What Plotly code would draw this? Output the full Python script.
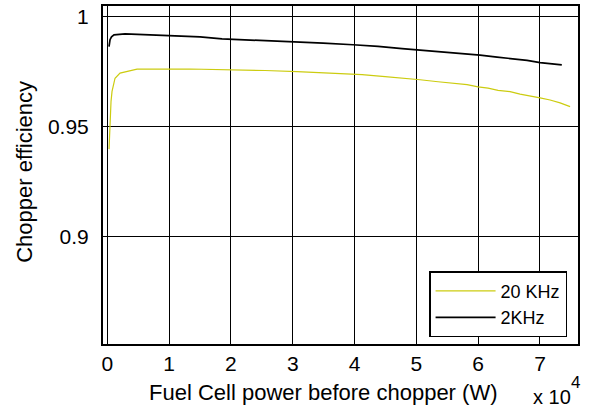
import plotly.graph_objects as go

# 2 kHz chopper efficiency (W, efficiency)
p_2k = [275, 437, 680, 1084, 2864, 4806, 8204, 11764, 15000, 18560, 21472, 24385,
        29887, 34903, 39757, 43803, 47686, 51084, 54644, 57880, 60307, 63058,
        65647, 67913, 70016, 71634, 73528]
eff_2k = [0.9862, 0.9894, 0.9907, 0.9916, 0.9920, 0.9918, 0.9913, 0.9910, 0.9907,
          0.9898, 0.9895, 0.9891, 0.9884, 0.9878, 0.9871, 0.9864, 0.9853, 0.9846,
          0.9838, 0.9830, 0.9824, 0.9815, 0.9808, 0.9800, 0.9790, 0.9785, 0.9780]

# 20 kHz chopper efficiency
p_20k = [275, 437, 599, 761, 1246, 2055, 3188, 4806, 13382, 22605, 25518, 30696,
         36359, 41214, 44935, 48172, 50599, 53511, 55939, 58204, 59984, 61602,
         63220, 65162, 66780, 68074, 70016, 71634, 73252, 74871]
eff_20k = [0.9397, 0.9540, 0.9614, 0.9659, 0.9719, 0.9742, 0.9750, 0.9760, 0.9761,
           0.9758, 0.9754, 0.9749, 0.9742, 0.9735, 0.9726, 0.9719, 0.9712, 0.9703,
           0.9697, 0.9690, 0.9680, 0.9674, 0.9664, 0.9658, 0.9647, 0.9641, 0.9630,
           0.9620, 0.9607, 0.9590]

x_tickvals = [0, 10000, 20000, 30000, 40000, 50000, 60000, 70000]
x_ticktext = ["0", "1", "2", "3", "4", "5", "6", "7"]
y_tickvals = [0.9, 0.95, 1.0]
y_ticktext = ["0.9", "0.95", "1"]

FONT = "Liberation Sans, Arial, sans-serif"

fig = go.Figure()
fig.add_trace(go.Scatter(x=p_20k, y=eff_20k, mode="lines", name="20 KHz",
                         line=dict(color="#cccc10", width=1.2)))
fig.add_trace(go.Scatter(x=p_2k, y=eff_2k, mode="lines", name="2KHz",
                         line=dict(color="black", width=1.7)))

axis_common = dict(showline=True, mirror="ticks", linecolor="black", linewidth=2,
                   showgrid=True, gridcolor="black", gridwidth=1, zeroline=False,
                   ticks="inside", ticklen=5, tickcolor="black", tickwidth=1,
                   tickfont=dict(family=FONT, size=21, color="black"))

fig.update_xaxes(range=[-700, 76150], tickvals=x_tickvals, ticktext=x_ticktext,
                 ticklabelstandoff=0, **axis_common)
fig.update_yaxes(range=[0.8512, 1.0047], tickvals=y_tickvals, ticktext=y_ticktext,
                 ticklabelstandoff=8, **axis_common)

fig.update_layout(
    width=591, height=415,
    margin=dict(l=103, r=13, t=4, b=71),
    paper_bgcolor="white", plot_bgcolor="white",
    font=dict(family=FONT, color="black"),
    legend=dict(x=0.977, y=0.02, xanchor="right", yanchor="bottom",
                bgcolor="white", bordercolor="black", borderwidth=1.5,
                font=dict(family=FONT, size=18, color="black"),
                itemwidth=60, tracegroupgap=0),
    annotations=[
        dict(text="Fuel Cell power before chopper (W)", xref="paper", yref="paper",
             x=0.463, y=-0.1, xanchor="center", yanchor="top", showarrow=False,
             font=dict(family=FONT, size=22, color="black")),
        dict(text="Chopper efficiency", xref="paper", yref="paper",
             x=-0.166, y=0.51, xanchor="center", yanchor="middle", textangle=-90,
             showarrow=False, font=dict(family=FONT, size=22, color="black")),
        dict(text="x 10", xref="paper", yref="paper", x=0.902, y=-0.118,
             xanchor="left", yanchor="top", showarrow=False,
             font=dict(family=FONT, size=20, color="black")),
        dict(text="4", xref="paper", yref="paper", x=0.982, y=-0.079,
             xanchor="left", yanchor="top", showarrow=False,
             font=dict(family=FONT, size=17, color="black")),
    ],
)

fig.write_html("out.html", config={"displayModeBar": False},
               post_script="document.body.style.margin='0';document.body.style.padding='0';")
